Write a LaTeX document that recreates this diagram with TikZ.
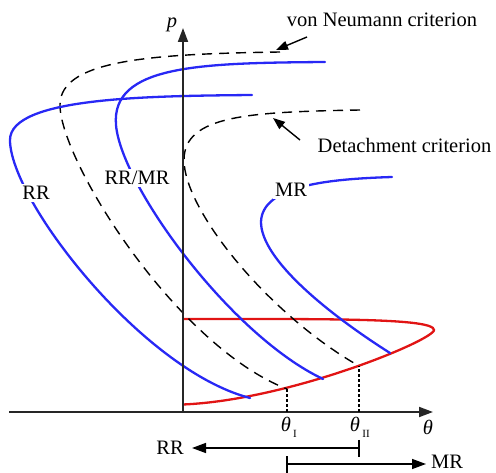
\documentclass[tikz,border=0pt]{standalone}
\usepackage{fontspec}
\setmainfont{Liberation Serif}
\usetikzlibrary{arrows.meta}
\definecolor{cblue}{RGB}{40,40,245}
\definecolor{cred}{RGB}{225,20,20}
\tikzset{
  bluec/.style={cblue, line width=2.3pt, line cap=round},
  redc/.style={cred, line width=2.3pt},
  dashc/.style={black, line width=1.4pt, dash pattern=on 10pt off 7pt},
  dotc/.style={black, line width=1.1pt, dash pattern=on 3pt off 2pt},
  axisl/.style={line width=1.8pt, black!85, -{Triangle[length=14pt,width=10pt]}},
  annarrow/.style={line width=1.4pt, -{Triangle[length=12pt,width=9pt]}},
  rangearr/.style={line width=1.4pt, -{Triangle[length=14pt,width=10pt]}},
  lbl/.style={font=\fontsize{20.5}{24}\selectfont, inner sep=1pt},
  wlbl/.style={lbl, fill=white, inner sep=2pt},
  sub/.style={font=\fontsize{11}{12}\selectfont, inner sep=0pt},
}
\begin{document}
\begin{tikzpicture}[x=1pt,y=-1pt]
\useasboundingbox (0,0) rectangle (496,473);
% coordinates
\coordinate (O) at (183,412);
\coordinate (ytip) at (183,28);
\coordinate (xstart) at (9,412);
\coordinate (xtip) at (433,412);
\coordinate (pI) at (287,389);
\coordinate (pII) at (359,366);
\coordinate (aI) at (287,412);
\coordinate (aII) at (359,412);

% red curve
\draw[redc] (183,319) .. controls (330,319) and (434,318) .. (434,330)
  .. controls (434,340) and (290,400) .. (183,404.5);

% dashed curves
\draw[dashc] (280,52) .. controls (150,54) and (60,60) .. (60,105)
  .. controls (60,160) and (175,345) .. (pI);
\draw[dashc] (360,110) .. controls (250,112) and (184,115) .. (184,160)
  .. controls (184,210) and (268,314) .. (pII);

% blue curves
\draw[bluec] (252,95) .. controls (150,96) and (10,97) .. (10,140)
  .. controls (10,200) and (142,370) .. (250,398);
\draw[bluec] (325,62) .. controls (200,63) and (111,65) .. (116,125)
  .. controls (121,185) and (230,335) .. (323,379);
\draw[bluec] (392,177) .. controls (330,179) and (262,185) .. (261,222)
  .. controls (261,260) and (330,315) .. (390,353);

% curve labels
\node[wlbl] (rrl) at (36,193) {RR};
\node[wlbl] (rrmrl) at (137,178) {RR/MR};
\node[wlbl] (mrl) at (291,190) {MR};

% axes
\draw[axisl] (O) -- (ytip);
\draw[axisl] (xstart) -- (xtip);
\node[lbl] (plbl) at (172,25) {\textit{p}};
\node[lbl] (thlbl) at (428,427) {\textit{θ}};

% dotted verticals
\draw[dotc] (aI) -- (pI);
\draw[dotc] (aII) -- (pII);
\node[lbl] (thI) at (286,424) {\textit{θ}};
\node[sub] (thIs) at (295,434) {I};
\node[lbl] (thII) at (355,424) {\textit{θ}};
\node[sub] (thIIs) at (366,434) {II};

% annotations
\node[lbl] (vn) at (382,20) {von Neumann criterion};
\node[lbl] (det) at (404.5,145) {Detachment criterion};
\coordinate (vnfrom) at (307,37);
\coordinate (vnto) at (276,50);
\coordinate (detfrom) at (300,140);
\coordinate (detto) at (273,118);
\draw[annarrow] (vnfrom) -- (vnto);
\draw[annarrow] (detfrom) -- (detto);

% range arrows
\coordinate (rrs) at (359,448);
\coordinate (rre) at (192,448);
\coordinate (mrs) at (287,464);
\coordinate (mre) at (426,464);
\draw[rangearr] (rrs) -- (rre);
\draw[line width=1.4pt] (359,440) -- (359,457);
\draw[rangearr] (mrs) -- (mre);
\draw[line width=1.4pt] (287,456) -- (287,473);
\node[lbl] (rrr) at (170,448) {RR};
\node[lbl] (mrr) at (447,462) {MR};
\end{tikzpicture}
\end{document}
